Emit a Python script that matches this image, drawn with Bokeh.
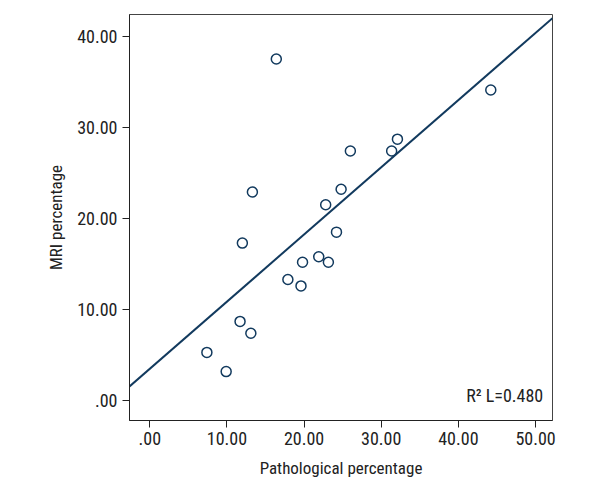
import numpy as np
from bokeh.plotting import figure
from bokeh.models import Range1d, FixedTicker, CustomJSTickFormatter, Label
from bokeh.embed import file_html
from bokeh.resources import INLINE

# Data
pathological = [16.4, 44.2, 26.0, 31.35, 32.1, 13.3, 24.8, 22.8, 24.2, 12.0,
                21.9, 19.8, 23.15, 17.9, 19.6, 11.7, 13.1, 7.4, 9.9]
mri = [37.5, 34.1, 27.4, 27.4, 28.7, 22.9, 23.2, 21.5, 18.5, 17.3,
       15.8, 15.2, 15.2, 13.3, 12.6, 8.7, 7.4, 5.3, 3.2]
x_ticks = [0, 10, 20, 30, 40, 50]
y_ticks = [0, 10, 20, 30, 40]
r2_label = "R\u00b2 L=0.480"

FONT = "'Roboto Condensed', 'DejaVu Sans Condensed', sans-serif"
NAVY = "#123a5e"

x_min, x_max = -2.63, 52.2
y_min, y_max = -2.17, 42.38

p = figure(width=584, height=484, output_backend="svg", toolbar_location=None,
           x_range=Range1d(x_min, x_max), y_range=Range1d(y_min, y_max),
           min_border_left=129, min_border_right=32, min_border_top=14,
           min_border_bottom=64)

p.xgrid.visible = False
p.ygrid.visible = False
p.outline_line_color = "#444444"
p.outline_line_width = 1
p.background_fill_color = "white"
p.border_fill_color = "white"

fmt = CustomJSTickFormatter(code="return tick === 0 ? '.00' : tick.toFixed(2);")
for ax, ticks in ((p.xaxis, x_ticks), (p.yaxis, y_ticks)):
    ax.ticker = FixedTicker(ticks=ticks)
    ax.formatter = fmt
    ax.minor_tick_line_color = None
    ax.major_tick_in = 0
    ax.major_tick_out = 7
    ax.major_tick_line_color = "#222222"
    ax.axis_line_color = "#222222"
    ax.major_label_text_font = FONT
    ax.major_label_text_font_size = "18px"
    ax.major_label_text_color = "#222222"
    ax.axis_label_text_font = FONT
    ax.axis_label_text_font_size = "17px"
    ax.axis_label_text_font_style = "normal"
    ax.axis_label_text_color = "#222222"

p.xaxis.axis_label = "Pathological percentage"
p.yaxis.axis_label = "MRI percentage"
p.xaxis.major_label_standoff = 4
p.yaxis.major_label_standoff = 5
p.xaxis.axis_label_standoff = 10
p.yaxis.axis_label_standoff = 8

# Fit line computed from the data
slope, intercept = np.polyfit(pathological, mri, 1)
lx = [x_min, x_max]
ly = [intercept + slope * v for v in lx]
p.line(lx, ly, line_color=NAVY, line_width=2)

p.scatter(pathological, mri, marker="circle", size=10, fill_color="white",
          line_color=NAVY, line_width=1.5)

p.add_layout(Label(x=51.0, y=0.55, text=r2_label, text_align="right",
                   text_baseline="alphabetic", text_font=FONT,
                   text_font_size="18px", text_color="#222222"))

open("out.html", "w").write(file_html(p, INLINE))
